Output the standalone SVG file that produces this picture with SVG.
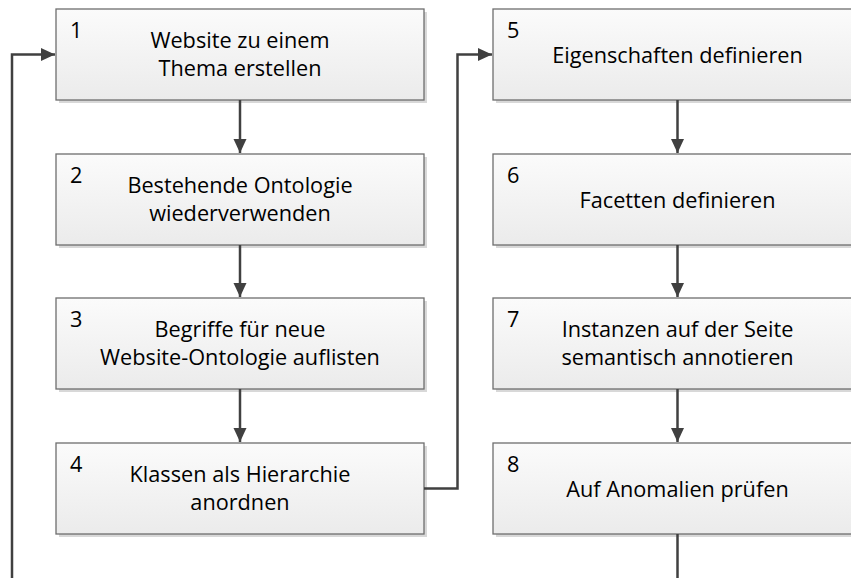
<svg xmlns="http://www.w3.org/2000/svg" width="851" height="578" viewBox="0 0 851 578">
<style>
.box{fill:url(#g);stroke:#6e6e6e;stroke-width:1.3}
.sh{fill:#d8d8d8}
.t{font-family:"Open Sans","Liberation Sans",sans-serif;font-size:21.7px;fill:#000;text-anchor:middle}
.n{font-family:"Open Sans","Liberation Sans",sans-serif;font-size:21.7px;fill:#000}
.c{fill:none;stroke:#404040;stroke-width:2.5}
</style>
<defs>
<linearGradient id="g" x1="0" y1="0" x2="0" y2="1">
<stop offset="0" stop-color="#fbfbfb"/>
<stop offset="1" stop-color="#ebebeb"/>
</linearGradient>
<marker id="a" markerUnits="userSpaceOnUse" markerWidth="16" markerHeight="16" viewBox="0 0 16 16" refX="15" refY="8" orient="auto">
<path d="M1,1.5 L15,8 L1,14.5 Z" fill="#404040"/>
</marker>
</defs>
<rect x="0" y="0" width="851" height="578" fill="#fff"/>
<g id="node1"><rect class="sh" x="59" y="12" width="368" height="91"/><rect class="box" x="56" y="9" width="368" height="91"/><text class="n" x="70" y="38">1</text><text class="t" x="240" y="48">Website zu einem</text><text class="t" x="240" y="76">Thema erstellen</text></g>
<g id="node2"><rect class="sh" x="59" y="157" width="368" height="91"/><rect class="box" x="56" y="154" width="368" height="91"/><text class="n" x="70" y="183">2</text><text class="t" x="240" y="193">Bestehende Ontologie</text><text class="t" x="240" y="221">wiederverwenden</text></g>
<g id="node3"><rect class="sh" x="59" y="301" width="368" height="91"/><rect class="box" x="56" y="298" width="368" height="91"/><text class="n" x="70" y="327">3</text><text class="t" x="240" y="337">Begriffe für neue</text><text class="t" x="240" y="365">Website-Ontologie auflisten</text></g>
<g id="node4"><rect class="sh" x="59" y="446" width="368" height="91"/><rect class="box" x="56" y="443" width="368" height="91"/><text class="n" x="70" y="472">4</text><text class="t" x="240" y="482">Klassen als Hierarchie</text><text class="t" x="240" y="510">anordnen</text></g>
<g id="node5"><rect class="sh" x="496" y="12" width="368" height="91"/><rect class="box" x="493" y="9" width="368" height="91"/><text class="n" x="507" y="38">5</text><text class="t" x="677.5" y="63">Eigenschaften definieren</text></g>
<g id="node6"><rect class="sh" x="496" y="157" width="368" height="91"/><rect class="box" x="493" y="154" width="368" height="91"/><text class="n" x="507" y="183">6</text><text class="t" x="677.5" y="208">Facetten definieren</text></g>
<g id="node7"><rect class="sh" x="496" y="301" width="368" height="91"/><rect class="box" x="493" y="298" width="368" height="91"/><text class="n" x="507" y="327">7</text><text class="t" x="677.5" y="337">Instanzen auf der Seite</text><text class="t" x="677.5" y="365">semantisch annotieren</text></g>
<g id="node8"><rect class="sh" x="496" y="446" width="368" height="91"/><rect class="box" x="493" y="443" width="368" height="91"/><text class="n" x="507" y="472">8</text><text class="t" x="677.5" y="497">Auf Anomalien prüfen</text></g>
<g id="connectors">
<path class="c" d="M240,100 V153" marker-end="url(#a)"/>
<path class="c" d="M240,245 V297" marker-end="url(#a)"/>
<path class="c" d="M240,389 V442" marker-end="url(#a)"/>
<path class="c" d="M424,488.5 H457.5 V54.5 H492" marker-end="url(#a)"/>
<path class="c" d="M677.5,100 V153" marker-end="url(#a)"/>
<path class="c" d="M677.5,245 V297" marker-end="url(#a)"/>
<path class="c" d="M677.5,389 V442" marker-end="url(#a)"/>
<path class="c" d="M677.5,534 V578"/>
<path class="c" d="M12,578 V54.5 H55" marker-end="url(#a)"/>
</g>
</svg>
